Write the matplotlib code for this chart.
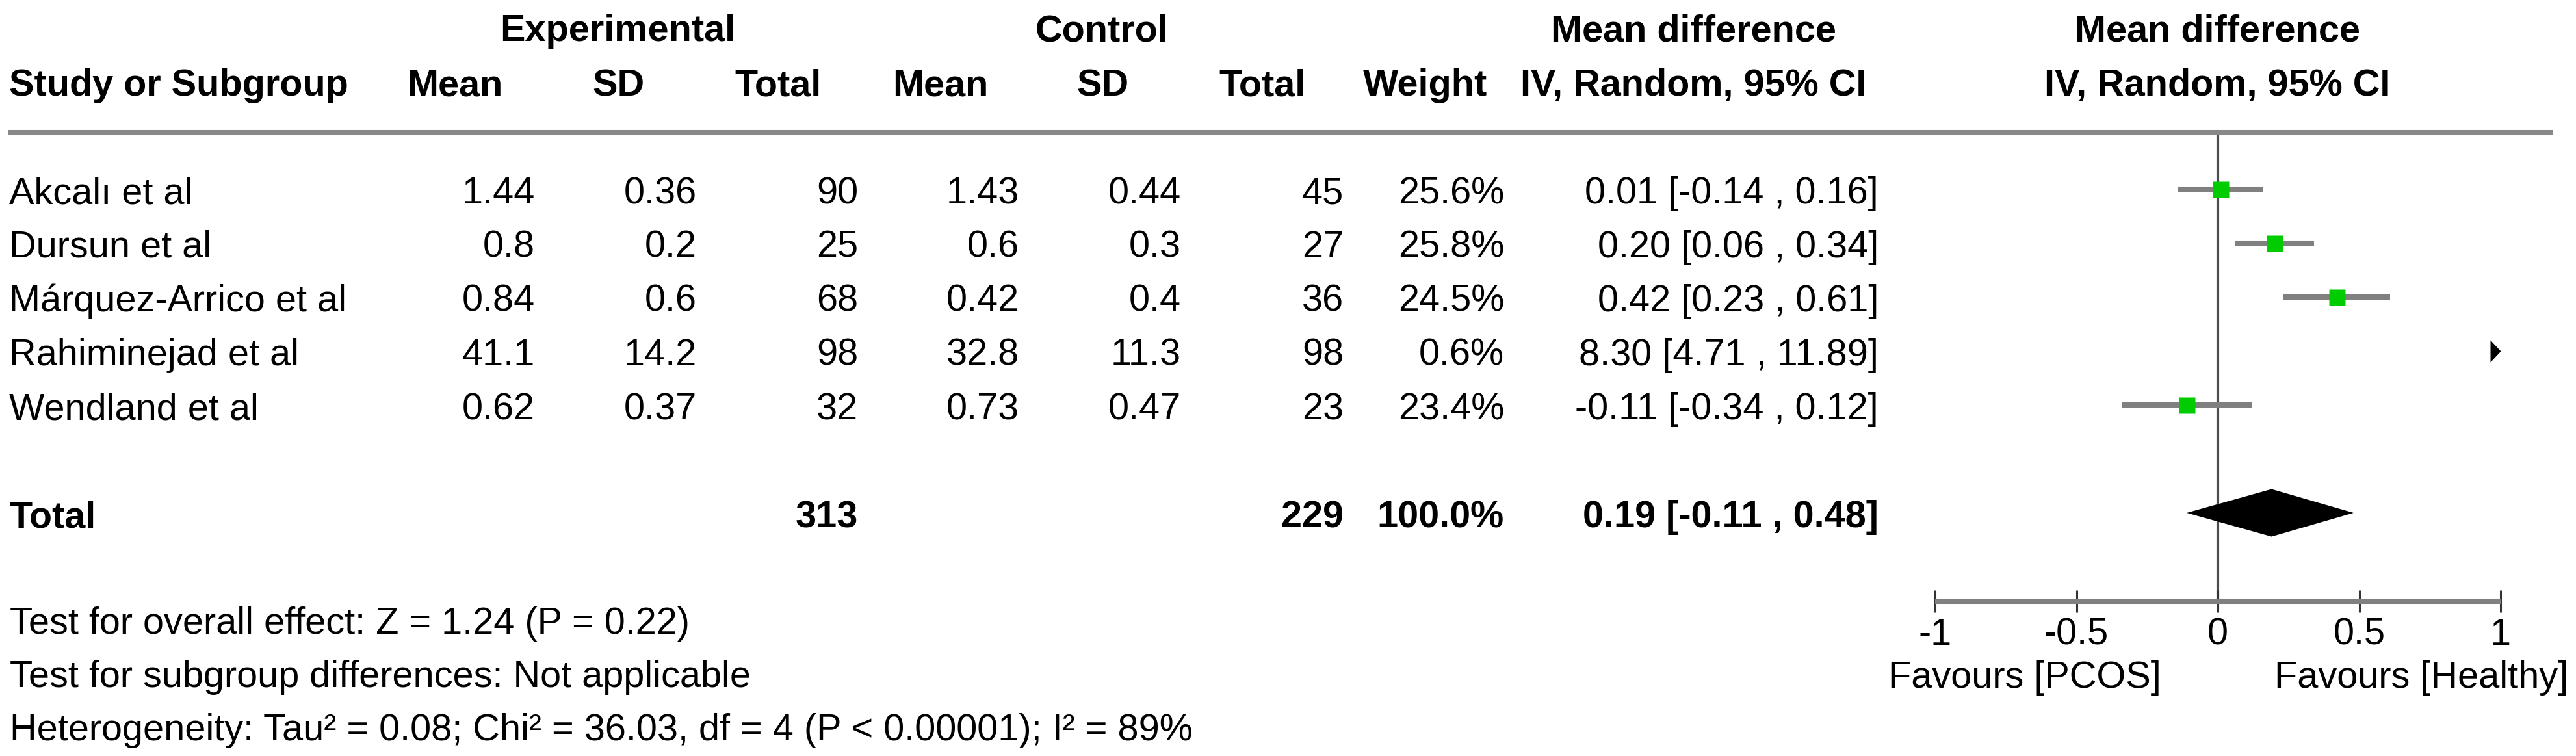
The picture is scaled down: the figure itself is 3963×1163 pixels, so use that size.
import matplotlib
matplotlib.use('Agg')
import matplotlib.pyplot as plt
import numpy as np
from matplotlib import transforms
from matplotlib.lines import Line2D

plt.rcParams['font.family'] = ['Liberation Sans', 'DejaVu Sans']
plt.rcParams['axes.unicode_minus'] = False

# data
studies = ["Akcalı et al", "Dursun et al", "Márquez-Arrico et al",
           "Rahiminejad et al", "Wendland et al"]
exp_mean = [1.44, 0.8, 0.84, 41.1, 0.62]
exp_sd = [0.36, 0.2, 0.6, 14.2, 0.37]
exp_n = [90, 25, 68, 98, 32]
ctrl_mean = [1.43, 0.6, 0.42, 32.8, 0.73]
ctrl_sd = [0.44, 0.3, 0.4, 11.3, 0.47]
ctrl_n = [45, 27, 36, 98, 23]
weight = [25.6, 25.8, 24.5, 0.6, 23.4]
md = [0.01, 0.20, 0.42, 8.30, -0.11]
ci_lo = [-0.14, 0.06, 0.23, 4.71, -0.34]
ci_hi = [0.16, 0.34, 0.61, 11.89, 0.12]
total_weight = 100.0
pooled_md, pooled_lo, pooled_hi = 0.19, -0.11, 0.48
x_ticks = [-1, -0.5, 0, 0.5, 1]
x_ticklabels = ["-1", "-0.5", "0", "0.5", "1"]
footer = ["Test for overall effect: Z = 1.24 (P = 0.22)",
          "Test for subgroup differences: Not applicable",
          "Heterogeneity: Tau² = 0.08; Chi² = 36.03, df = 4 (P < 0.00001); I² = 89%"]
favours_left = "Favours [PCOS]"
favours_right = "Favours [Healthy]"

W, H = 3963, 1163
FS = 41.5
fig = plt.figure(figsize=(W / 100, H / 100), dpi=100)


def fx(x):
    return x / W


def fy(y):
    return 1 - y / H


def put(x, y, s, ha='right', bold=False):
    fig.text(fx(x), fy(y), s, ha=ha, va='baseline', fontsize=FS,
             fontweight='bold' if bold else 'normal', color='black')


# header
put(950, 63, "Experimental", ha='center', bold=True)
put(1695, 63, "Control", ha='center', bold=True)
put(2605, 63, "Mean difference", ha='center', bold=True)
put(3411, 63, "Mean difference", ha='center', bold=True)
put(14, 147, "Study or Subgroup", ha='left', bold=True)
head_cols = [700, 951, 1197, 1447, 1696, 1942, 2193, 2605, 3411]
head_txt = ["Mean", "SD", "Total", "Mean", "SD", "Total", "Weight",
            "IV, Random, 95% CI", "IV, Random, 95% CI"]
for x, s in zip(head_cols, head_txt):
    put(x, 147, s, ha='center', bold=True)

fig.add_artist(Line2D([fx(13), fx(3928)], [fy(204), fy(204)],
                      color='#888888', lw=5.8, solid_capstyle='butt'))

# table rows
right_cols = [823, 1072, 1320, 1568, 1817, 2067, 2314, 2890]
for i, name in enumerate(studies):
    yb = 313 + 83 * i
    put(14, yb, name, ha='left')
    vals = [f"{exp_mean[i]:g}", f"{exp_sd[i]:g}", f"{exp_n[i]}",
            f"{ctrl_mean[i]:g}", f"{ctrl_sd[i]:g}", f"{ctrl_n[i]}",
            f"{weight[i]:.1f}%",
            f"{md[i]:.2f} [{ci_lo[i]:.2f} , {ci_hi[i]:.2f}]"]
    for x, s in zip(right_cols, vals):
        put(x, yb, s)

yb = 313 + 83 * 6
put(14, yb, "Total", ha='left', bold=True)
put(1320, yb, f"{sum(exp_n)}", bold=True)
put(2067, yb, f"{sum(ctrl_n)}", bold=True)
put(2314, yb, f"{total_weight:.1f}%", bold=True)
put(2890, yb, f"{pooled_md:.2f} [{pooled_lo:.2f} , {pooled_hi:.2f}]", bold=True)

for k, line in enumerate(footer):
    put(15, 975 + 82 * k, line, ha='left')

# forest plot
ax = fig.add_axes([fx(2977), fy(925), fx(3847) - fx(2977), (925 - 204) / H])
ax.set_xlim(-1, 1)
ax.set_ylim((925 - 291) / 83, (204 - 291) / 83)
ax.patch.set_alpha(0)
for s in ['top', 'left', 'right']:
    ax.spines[s].set_visible(False)
ax.spines['bottom'].set_color('#808080')
ax.spines['bottom'].set_linewidth(5.8)
ax.spines['bottom'].set_capstyle('butt')
ax.set_yticks([])
ax.set_xticks(x_ticks)
ax.set_xticklabels(x_ticklabels)
ax.tick_params(axis='x', direction='inout', length=24, width=2.2,
               color='#333333', pad=6, labelsize=FS)

ax.axvline(0, color='#4d4d4d', lw=3, zorder=1)

xmin, xmax = ax.get_xlim()
rows = np.arange(len(studies))
ax.hlines(rows, ci_lo, ci_hi, color='#808080', lw=5.8, zorder=2)
for i in rows:
    if xmin <= md[i] <= xmax:
        ax.plot(md[i], i, marker='s', ms=18, color='#00cc00', mec='none', zorder=3)
    elif ci_lo[i] > xmax:
        # study lies off the right of the scale: arrow head at the edge
        ax.plot(np.clip(ci_lo[i], xmin, xmax), i,
                marker=[(-0.94, 1), (0, 0), (-0.94, -1)], ms=24.5,
                color='black', mec='none', clip_on=False, zorder=3)

yt = 6
ax.fill([pooled_lo, pooled_md, pooled_hi, pooled_md],
        [yt, yt - 0.44, yt, yt + 0.44], color='black', lw=0, zorder=4)

blend = transforms.blended_transform_factory(ax.transData, fig.transFigure)
ax.text(-0.2, fy(1058), favours_left, transform=blend, ha='right', va='baseline', fontsize=FS)
ax.text(0.2, fy(1058), favours_right, transform=blend, ha='left', va='baseline', fontsize=FS)

fig.savefig('out.png', dpi=100, facecolor='white')
